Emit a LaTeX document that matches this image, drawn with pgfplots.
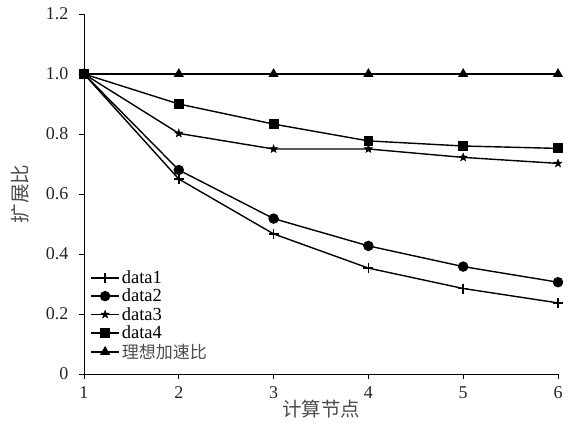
\documentclass[border=0pt]{standalone}
\usepackage{fontspec}
\setmainfont{Liberation Serif}
\newfontfamily\cjk{Noto Sans CJK SC}
\usepackage{pgfplots}
\pgfplotsset{compat=1.18}
\usetikzlibrary{plotmarks}
\newcommand\tl{\fontsize{18pt}{20pt}\selectfont}
\pgfdeclareplotmark{fstar}{%
  \pgfpathmoveto{\pgfqpointpolar{90}{1.2\pgfplotmarksize}}%
  \pgfpathlineto{\pgfqpointpolar{126}{0.5\pgfplotmarksize}}%
  \pgfpathlineto{\pgfqpointpolar{162}{1.2\pgfplotmarksize}}%
  \pgfpathlineto{\pgfqpointpolar{198}{0.5\pgfplotmarksize}}%
  \pgfpathlineto{\pgfqpointpolar{234}{1.2\pgfplotmarksize}}%
  \pgfpathlineto{\pgfqpointpolar{270}{0.5\pgfplotmarksize}}%
  \pgfpathlineto{\pgfqpointpolar{306}{1.2\pgfplotmarksize}}%
  \pgfpathlineto{\pgfqpointpolar{342}{0.5\pgfplotmarksize}}%
  \pgfpathlineto{\pgfqpointpolar{18}{1.2\pgfplotmarksize}}%
  \pgfpathlineto{\pgfqpointpolar{54}{0.5\pgfplotmarksize}}%
  \pgfpathclose\pgfusepathqfillstroke}
\begin{document}
\begin{tikzpicture}
\useasboundingbox (-84pt,-60pt) rectangle (486pt,374pt);
\begin{axis}[
  at={(0,0)}, anchor=south west,
  scale only axis, width=474pt, height=360pt,
  xmin=1, xmax=6, ymin=0, ymax=1.2,
  axis x line*=bottom, axis y line*=left,
  axis line style={line width=0.9pt, -},
  xtick={1,2,3,4,5,6},
  xticklabels={\tl 1,\tl 2,\tl 3,\tl 4,\tl 5,\tl 6},
  ytick={0,0.2,0.4,0.6,0.8,1.0,1.2},
  yticklabels={\tl 0,\tl 0.2,\tl 0.4,\tl 0.6,\tl 0.8,\tl 1.0,\tl 1.2},
  tick align=outside, major tick length=5pt,
  tick style={line width=0.8pt, black},
  tick label style={text=black!85},
  xticklabel style={yshift=-4pt},
  yticklabel style={xshift=-7pt},
  xlabel={\cjk 计算节点}, ylabel={\cjk 扩展比},
  label style={font=\fontsize{19.5pt}{22pt}\selectfont, text=black!70},
  xlabel style={yshift=5pt},
  ylabel style={yshift=10pt},
  every axis plot/.append style={line width=1.4pt, black},
  legend style={at={(0.011,0.296)}, anchor=north west, draw=none, fill=none,
    font=\fontsize{18.5pt}{18pt}\selectfont, row sep=0pt, inner sep=1pt},
  legend cell align=left,
  legend image code/.code={\draw[mark repeat=2,mark phase=2] plot coordinates {(0pt,0pt) (14pt,0pt) (28pt,0pt)};},
  legend image post style={line width=1.4pt},
]
\addplot[mark=+, mark size=5pt, mark options={line width=1.6pt}] coordinates {(1,1) (2,0.65) (3,0.467) (4,0.353) (5,0.285) (6,0.237)};
\addlegendentry{data1}
\addplot[mark=*, mark size=4.5pt] coordinates {(1,1) (2,0.68) (3,0.518) (4,0.427) (5,0.358) (6,0.306)};
\addlegendentry{data2}
\addplot[mark=fstar, mark size=3.5pt, mark options={line width=0.5pt}] coordinates {(1,1) (2,0.802) (3,0.75) (4,0.75) (5,0.722) (6,0.702)};
\addlegendentry{data3}
\addplot[mark=square*, mark size=4.2pt] coordinates {(1,1) (2,0.9) (3,0.833) (4,0.777) (5,0.76) (6,0.752)};
\addlegendentry{data4}
\addplot[mark=triangle*, mark size=4.5pt] coordinates {(1,1) (2,1) (3,1) (4,1) (5,1) (6,1)};
\addlegendentry{\textcolor{black!70}{\cjk\fontsize{17pt}{18pt}\selectfont 理想加速比}}
\end{axis}
\end{tikzpicture}
\end{document}
